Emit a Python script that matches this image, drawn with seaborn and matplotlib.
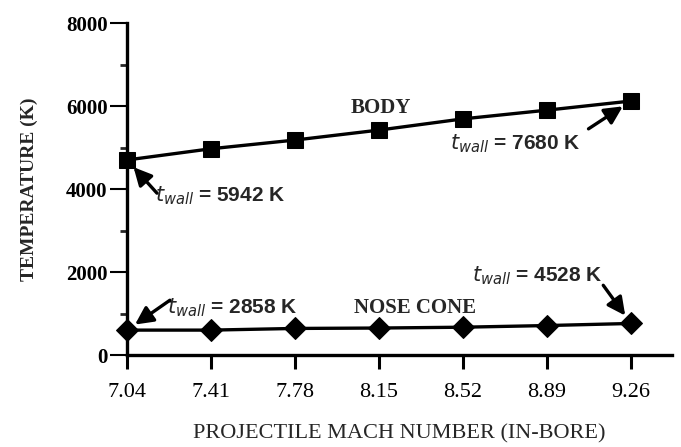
import matplotlib
matplotlib.use("Agg")
import matplotlib.pyplot as plt
import seaborn as sns
import pandas as pd

mach = [7.04, 7.41, 7.78, 8.15, 8.52, 8.89, 9.26]
body_temp = [4700, 4970, 5180, 5420, 5690, 5900, 6120]
nose_temp = [600, 600, 640, 650, 670, 710, 760]
series_names = ["BODY", "NOSE CONE"]
y_ticks = [0, 2000, 4000, 6000, 8000]

df = pd.DataFrame({
    "mach": mach * 2,
    "temp": body_temp + nose_temp,
    "part": [series_names[0]] * len(mach) + [series_names[1]] * len(mach),
})

sns.set_theme(style="ticks")
plt.rcParams['font.family'] = ['Liberation Serif', 'DejaVu Serif']

fig = plt.figure(figsize=(6.81, 4.47), dpi=100)
ax = fig.add_axes([0.1865, 0.2058, 0.80, 0.7427])

sns.lineplot(data=df, x="mach", y="temp", style="part", hue="part",
             palette=["black", "black"], markers={"BODY": "s", "NOSE CONE": "D"},
             dashes=False, markersize=12, linewidth=2.4, markeredgecolor="black",
             legend=False, ax=ax)
for l in ax.lines:
    l.set_clip_on(False)
if len(ax.lines) > 1:
    ax.lines[1].set_markersize(11)

ax.set_xlim(7.04, 9.44)
ax.set_ylim(0, 8000)
ax.set_xticks(mach)
ax.set_xticklabels([f"{m:.2f}" for m in mach], fontsize=16)
ax.set_yticks(y_ticks)
ax.set_yticklabels([str(v) for v in y_ticks], fontsize=15, fontweight="bold")
ax.set_yticks([1000, 3000, 5000, 7000], minor=True)
ax.tick_params(axis="x", which="major", direction="out", length=10, width=2.2, pad=10, colors="black")
ax.tick_params(axis="y", which="major", direction="out", length=12, width=1.5, pad=2, colors="black")
ax.tick_params(axis="y", which="minor", direction="out", length=5, width=2)
for s in ["top", "right"]:
    ax.spines[s].set_visible(False)
for s in ["left", "bottom"]:
    ax.spines[s].set_linewidth(2.4)
    ax.spines[s].set_color("black")

ax.set_xlabel("PROJECTILE MACH NUMBER (IN-BORE)", fontsize=16, labelpad=16)
ax.set_ylabel("TEMPERATURE (K)", fontsize=14, fontweight="bold", labelpad=20)

ann_font = dict(fontsize=15, fontweight="bold", family=["Liberation Sans", "DejaVu Sans"])
arrow = dict(arrowstyle="-|>,head_length=0.9,head_width=0.45", color="black", lw=2.4,
             shrinkA=0, shrinkB=7)

# body annotations
ax.text(7.163, 3840, r"$t_{wall}$ = 5942 K", ha="left", va="center", **ann_font)
ax.annotate("", xy=(mach[0], body_temp[0]), xytext=(7.172, 3900), arrowprops=arrow)
ax.text(9.037, 5090, r"$t_{wall}$ = 7680 K", ha="right", va="center", **ann_font)
ax.annotate("", xy=(mach[-1], body_temp[-1]), xytext=(9.073, 5450), arrowprops=arrow)

# nose cone annotations
ax.text(7.216, 1130, r"$t_{wall}$ = 2858 K", ha="left", va="center", **ann_font)
ax.annotate("", xy=(mach[0], nose_temp[0]), xytext=(7.229, 1320), arrowprops=arrow)
ax.text(8.559, 1920, r"$t_{wall}$ = 4528 K", ha="left", va="center", **ann_font)
ax.annotate("", xy=(mach[-1], nose_temp[-1]), xytext=(9.138, 1680), arrowprops=arrow)

ax.text(8.16, 5950, "BODY", fontsize=15, fontweight="bold", ha="center", va="center")
ax.text(8.31, 1130, "NOSE CONE", fontsize=15, fontweight="bold", ha="center", va="center")

fig.savefig("out.png", dpi=100)
